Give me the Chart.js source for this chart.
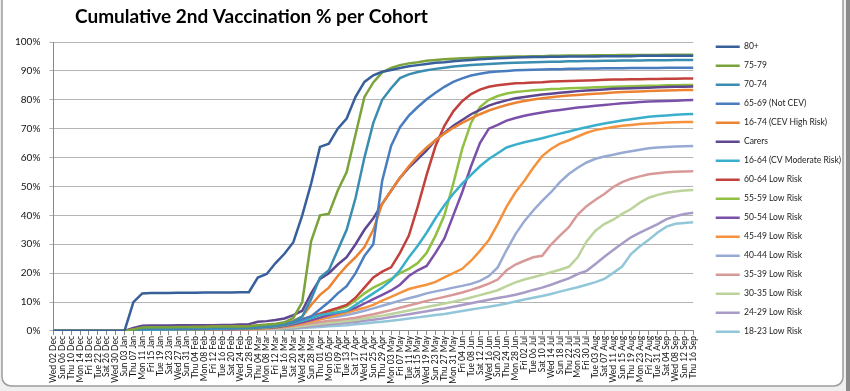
<!DOCTYPE html>
<html>
<head>
<meta charset="utf-8">
<script src="https://cdn.jsdelivr.net/npm/chart.js@4.4.1/dist/chart.umd.min.js"></script>
<style>
  html, body { margin: 0; padding: 0; background: #fff; }
  #wrap { width: 850px; height: 391px; position: relative; }
</style>
</head>
<body>
<div id="wrap"><canvas id="chart"></canvas></div>
<script>
// tick labels, one every 4 days
const labels = [
  'Wed 02 Dec','Sun 06 Dec','Thu 10 Dec','Mon 14 Dec','Fri 18 Dec','Tue 22 Dec','Sat 26 Dec','Wed 30 Dec',
  'Sun 03 Jan','Thu 07 Jan','Mon 11 Jan','Fri 15 Jan','Tue 19 Jan','Sat 23 Jan','Wed 27 Jan','Sun 31 Jan',
  'Thu 04 Feb','Mon 08 Feb','Fri 12 Feb','Tue 16 Feb','Sat 20 Feb','Wed 24 Feb','Sun 28 Feb',
  'Thu 04 Mar','Mon 08 Mar','Fri 12 Mar','Tue 16 Mar','Sat 20 Mar','Wed 24 Mar','Sun 28 Mar',
  'Thu 01 Apr','Mon 05 Apr','Fri 09 Apr','Tue 13 Apr','Sat 17 Apr','Wed 21 Apr','Sun 25 Apr','Thu 29 Apr',
  'Mon 03 May','Fri 07 May','Tue 11 May','Sat 15 May','Wed 19 May','Sun 23 May','Thu 27 May','Mon 31 May',
  'Fri 04 Jun','Tue 08 Jun','Sat 12 Jun','Wed 16 Jun','Sun 20 Jun','Thu 24 Jun','Mon 28 Jun',
  'Fri 02 Jul','Tue 06 Jul','Sat 10 Jul','Wed 14 Jul','Sun 18 Jul','Thu 22 Jul','Mon 26 Jul','Fri 30 Jul',
  'Tue 03 Aug','Sat 07 Aug','Wed 11 Aug','Sun 15 Aug','Thu 19 Aug','Mon 23 Aug','Fri 27 Aug','Tue 31 Aug',
  'Sat 04 Sep','Wed 08 Sep','Sun 12 Sep','Thu 16 Sep'
];

const cohorts = [
  '80+', '75-79', '70-74', '65-69 (Not CEV)', '16-74 (CEV High Risk)', 'Carers',
  '16-64 (CV Moderate Risk)', '60-64 Low Risk', '55-59 Low Risk', '50-54 Low Risk',
  '45-49 Low Risk', '40-44 Low Risk', '35-39 Low Risk', '30-35 Low Risk',
  '24-29 Low Risk', '18-23 Low Risk'
];

// % with 2nd dose
const age80 = [0,0,0,0,0,0,0,0,0,10,
  13,13.1,13.1,13.1,13.2,13.2,13.2,13.3,13.3,13.3,
  13.3,13.4,13.4,18.5,19.7,23.5,26.7,30.7,40,51,
  63.7,64.8,70,73.5,81,86.2,88.5,89.7,90.3,91,
  91.6,92,92.4,92.8,93,93.3,93.6,93.8,94,94.2,
  94.4,94.5,94.6,94.7,94.8,94.8,94.9,94.9,95,95,
  95,95,95.1,95.1,95.1,95.1,95.2,95.2,95.2,95.2,
  95.2,95.2,95.2];
const age75 = [0,0,0,0,0,0,0,0,0,0.5,
  1.2,1.3,1.3,1.3,1.4,1.4,1.4,1.4,1.5,1.5,
  1.5,1.5,1.6,2,2.2,2.5,3,4.5,10,31,
  40,40.6,48.6,55,68,81,86,89.5,91,92,
  92.6,93,93.5,93.8,94,94.2,94.4,94.5,94.6,94.7,
  94.8,94.9,95,95,95.1,95.1,95.2,95.2,95.3,95.3,
  95.3,95.4,95.4,95.4,95.5,95.5,95.5,95.5,95.5,95.6,
  95.6,95.6,95.6];
const age70 = [0,0,0,0,0,0,0,0,0,0.3,
  0.8,0.9,0.9,0.9,1,1,1,1,1,1.1,
  1.1,1.1,1.2,1.4,1.6,1.9,2.3,3.2,5,11,
  18.5,21,28,35,46,60,72,80,84,87.5,
  88.8,89.6,90.2,90.7,91.1,91.5,91.8,92,92.2,92.4,
  92.6,92.7,92.8,92.9,93,93.1,93.2,93.2,93.3,93.3,
  93.4,93.4,93.5,93.5,93.6,93.6,93.6,93.7,93.7,93.7,
  93.8,93.8,93.8];
const age65 = [0,0,0,0,0,0,0,0,0,0.2,
  0.6,0.7,0.7,0.7,0.8,0.8,0.8,0.8,0.9,0.9,
  0.9,0.9,1,1.2,1.4,1.7,2.1,2.9,4,5,
  7.5,10,13,15.5,20,26,30,52,64,70.5,
  74.5,77.5,80.2,82.4,84.5,86.2,87.4,88.4,89,89.5,
  89.8,90,90.2,90.3,90.4,90.5,90.6,90.6,90.7,90.7,
  90.8,90.8,90.9,90.9,90.9,91,91,91,91,91.1,
  91.1,91.1,91.1];
const cevHigh = [0,0,0,0,0,0,0,0,0,0.5,
  1,1.1,1.2,1.2,1.3,1.3,1.4,1.4,1.5,1.5,
  1.5,1.6,1.6,1.8,2,2.2,2.6,3.5,5,9,
  12.5,15,19,22.5,25.5,29,35,44,48.5,53,
  57,60.5,63.5,66,68.3,70.3,72,73.6,75,76.3,
  77.3,78.2,79,79.6,80.1,80.5,80.9,81.2,81.5,81.7,
  81.9,82.1,82.3,82.5,82.7,82.8,82.9,83,83.1,83.2,
  83.3,83.4,83.4];
const carers = [0,0,0,0,0,0,0,0,0,1,
  1.8,1.9,1.9,1.9,2,2,2,2,2,2.1,
  2.1,2.2,2.3,3.2,3.4,3.8,4.3,5.5,7,13,
  18,20,23,25.5,30,35,39,44,48.5,53,
  56.5,59.5,62.5,66,68.5,71,73,75,76.5,78,
  79,79.8,80.5,81,81.4,81.8,82.1,82.4,82.7,83,
  83.2,83.4,83.6,83.8,83.9,84,84.1,84.2,84.3,84.4,
  84.5,84.5,84.6];
const cvModerate = [0,0,0,0,0,0,0,0,0,0.1,
  0.3,0.4,0.5,0.5,0.6,0.6,0.7,0.7,0.8,0.8,
  0.9,0.9,1,1.2,1.5,1.8,2.2,2.8,3.5,4.5,
  5.5,6,6.5,7,9,11,13,15,17.5,21,
  25.5,29.5,34,39,43.5,47.5,51,54,57,59.5,
  61.5,63.5,64.5,65.3,66,66.7,67.5,68.3,69,69.8,
  70.5,71.2,71.8,72.3,72.8,73.3,73.7,74.1,74.4,74.6,
  74.8,75,75.1];
const low60 = [0,0,0,0,0,0,0,0,0,0.1,
  0.3,0.5,0.5,0.6,0.6,0.7,0.7,0.8,0.8,0.9,
  0.9,1,1,1.3,1.5,1.8,2.2,3,4,5,
  6,7,8,9,11.5,15,18.5,20.5,22,27,
  33,43,54,64,71,76,79.5,82,83.5,84.5,
  85,85.4,85.7,85.8,86,86.1,86.3,86.4,86.5,86.6,
  86.7,86.8,86.9,87,87,87.1,87.1,87.2,87.2,87.3,
  87.3,87.4,87.4];
const low55 = [0,0,0,0,0,0,0,0,0,0.1,
  0.2,0.3,0.4,0.4,0.5,0.5,0.6,0.6,0.7,0.7,
  0.8,0.8,0.8,1,1.2,1.5,2,2.7,3.6,4.5,
  5.5,6.5,7.5,8.5,10.5,13,15,16.5,18,20,
  21.5,23.5,27,33,40,51,63,72,77.5,80,
  81.3,82.2,82.7,83,83.3,83.5,83.7,83.8,84,84.1,
  84.2,84.3,84.4,84.5,84.6,84.7,84.8,84.9,84.9,85,
  85,85.1,85.1];
const low50 = [0,0,0,0,0,0,0,0,0,0.1,
  0.2,0.3,0.4,0.4,0.4,0.5,0.5,0.5,0.6,0.6,
  0.6,0.7,0.7,0.9,1.1,1.3,1.7,2.3,3,3.8,
  4.6,5.5,6.3,7,8,9.5,11,12.5,14,16,
  19,21,22.5,27,32,40,48,57,65,70,
  71.3,72.8,73.7,74.5,75.1,75.6,76.1,76.5,76.9,77.3,
  77.6,77.9,78.2,78.5,78.8,79,79.2,79.4,79.5,79.6,
  79.7,79.8,79.9];
const low45 = [0,0,0,0,0,0,0,0,0,0.1,
  0.2,0.3,0.3,0.4,0.4,0.4,0.5,0.5,0.5,0.6,
  0.6,0.6,0.7,0.8,1,1.2,1.5,2,2.6,3.3,
  4,4.8,5.6,6.4,7.2,8,9,10.5,11.8,13.2,
  14.5,15.3,16,17,18.5,20,21.5,24.3,27.7,31.5,
  37,43,48,52,56.5,60.5,63,64.8,66,67.3,
  68.6,69.5,70.1,70.6,71,71.3,71.6,71.8,72,72.1,
  72.2,72.3,72.3];
const low40 = [0,0,0,0,0,0,0,0,0,0.05,
  0.2,0.3,0.3,0.3,0.4,0.4,0.5,0.5,0.6,0.6,
  0.6,0.7,0.7,0.9,1.1,1.4,1.8,2.3,2.9,3.5,
  4.1,4.6,5,5.5,6.2,7,7.8,8.7,9.6,10.5,
  11.3,12.1,13,13.7,14.3,15,15.6,16.3,17.3,19,
  22,28,33.5,38,41.7,45,48,51.5,54.3,56.5,
  58.3,59.6,60.4,61,61.7,62.2,62.7,63.2,63.5,63.7,
  63.8,63.9,64];
const low35 = [0,0,0,0,0,0,0,0,0,0,
  0.1,0.2,0.2,0.3,0.3,0.3,0.4,0.4,0.4,0.5,
  0.5,0.5,0.5,0.6,0.8,1,1.3,1.7,2.2,2.7,
  3.1,3.5,3.8,4.1,4.6,5.2,5.8,6.5,7.2,8,
  8.8,9.6,10.4,11.1,11.8,12.5,13.3,14.2,15.2,16.4,
  17.8,21,23,24.3,25.5,26,29.9,33,35.9,40.3,
  43.2,45.4,47.4,49.8,51.5,52.7,53.5,54.2,54.6,54.9,
  55.1,55.2,55.3];
const low30 = [0,0,0,0,0,0,0,0,0,0,
  0.1,0.2,0.2,0.2,0.3,0.3,0.3,0.3,0.4,0.4,
  0.4,0.4,0.4,0.5,0.6,0.8,1,1.3,1.7,2.1,
  2.5,2.8,3.1,3.4,3.8,4.3,4.8,5.3,5.9,6.5,
  7.1,7.7,8.3,8.9,9.5,10.1,10.8,11.6,12.4,13.2,
  14.1,15.5,16.8,17.8,18.6,19.4,20.3,21.2,22.2,25.5,
  31,34.7,37,38.5,40.5,42.2,44.4,46.1,47.1,47.8,
  48.3,48.6,48.8];
const low24 = [0,0,0,0,0,0,0,0,0,0,
  0.1,0.2,0.2,0.2,0.2,0.2,0.3,0.3,0.3,0.3,
  0.3,0.3,0.3,0.4,0.5,0.6,0.8,1,1.3,1.6,
  1.9,2.2,2.5,2.8,3.1,3.5,3.9,4.3,4.8,5.3,
  5.8,6.3,6.8,7.3,7.8,8.4,9,9.6,10.2,10.8,
  11.4,11.9,12.5,13.3,14.2,15,16,17.1,18.2,19.7,
  20.8,23.2,25.7,28,30.3,32.4,34,35.5,37,38.7,
  39.7,40.5,40.9];
const low18 = [0,0,0,0,0,0,0,0,0,0,
  0.05,0.1,0.1,0.1,0.1,0.15,0.15,0.15,0.2,0.2,
  0.2,0.2,0.2,0.3,0.35,0.45,0.6,0.8,1,1.2,
  1.4,1.6,1.8,2,2.3,2.6,2.9,3.2,3.5,3.9,
  4.3,4.7,5.1,5.5,5.9,6.4,6.9,7.4,7.9,8.4,
  8.9,9.5,10.2,10.9,11.5,12.1,12.8,13.6,14.4,15.1,
  16,16.9,18,20.1,22.3,26.6,29.3,31.6,34.1,36.1,
  37.1,37.4,37.6];

const seriesValues = [age80, age75, age70, age65, cevHigh, carers, cvModerate,
  low60, low55, low50, low45, low40, low35, low30, low24, low18];

const lineColors = ['#37609B', '#7BA33C', '#3A8DB0', '#4A7DC0', '#EC8333', '#5E4790',
  '#3AAFCB', '#C2413C', '#8FC042', '#7A50A8', '#F5923E', '#97AAD3',
  '#D89A98', '#BCD39B', '#A89CC6', '#92C6D9'];

const datasets = cohorts.map((name, i) => ({
  label: name,
  data: seriesValues[i],
  borderColor: lineColors[i],
  backgroundColor: lineColors[i],
  borderWidth: 2.5,
  pointRadius: 0,
  tension: 0,
  fill: false
}));

const frame = {
  id: 'frame',
  afterLayout(chart) {
    // nudge the legend column to where the original sits
    const lg = chart.legend;
    lg.left += 12; lg.right += 12;
    lg.top -= 10; lg.bottom -= 10;
  },
  beforeDraw(chart) {
    const {ctx, width, height} = chart;
    ctx.save();
    ctx.fillStyle = '#efefef';
    ctx.fillRect(0, 0, width, height);
    ctx.beginPath();
    ctx.roundRect(2, -12, 841, 398, 9);
    ctx.fillStyle = '#ffffff';
    ctx.fill();
    ctx.strokeStyle = '#9c9c9c';
    ctx.lineWidth = 1.5;
    ctx.stroke();
    ctx.fillStyle = '#8a8a8a';
    ctx.fillRect(846, 0, 4, height);
    ctx.restore();
  },
  afterDraw(chart) {
    const {ctx} = chart;
    ctx.save();
    ctx.fillStyle = '#000';
    ctx.font = 'bold 19px Lato';
    ctx.textBaseline = 'alphabetic';
    ctx.fillText('Cumulative 2nd Vaccination % per Cohort', 75, 23);
    ctx.restore();
  }
};

new Chart(document.getElementById('chart'), {
  type: 'line',
  data: { labels: labels, datasets: datasets },
  options: {
    responsive: true,
    maintainAspectRatio: false,
    animation: false,
    layout: { padding: { top: 42, left: 6, right: 11, bottom: 6 } },
    plugins: {
      title: { display: false },
      tooltip: { enabled: false },
      legend: {
        position: 'right',
        align: 'start',
        labels: {
          usePointStyle: true,
          pointStyle: 'line',
          pointStyleWidth: 24,
          padding: 10.5,
          color: '#222',
          font: { family: 'Lato', size: 8.5 }
        }
      }
    },
    scales: {
      x: {
        grid: { display: true, drawOnChartArea: false, color: '#888', tickLength: 4 },
        border: { color: '#888' },
        ticks: {
          autoSkip: false,
          maxRotation: 90,
          minRotation: 90,
          padding: 1,
          color: '#111',
          font: { family: 'Lato', size: 8.5 }
        }
      },
      y: {
        min: 0,
        max: 100,
        grid: { color: '#b4b4b4', tickLength: 4 },
        border: { color: '#888' },
        ticks: {
          stepSize: 5,
          padding: 9,
          color: '#111',
          font: { family: 'Lato', size: 10 },
          callback: v => v + '%'
        }
      }
    }
  },
  plugins: [frame]
});
</script>
</body>
</html>
